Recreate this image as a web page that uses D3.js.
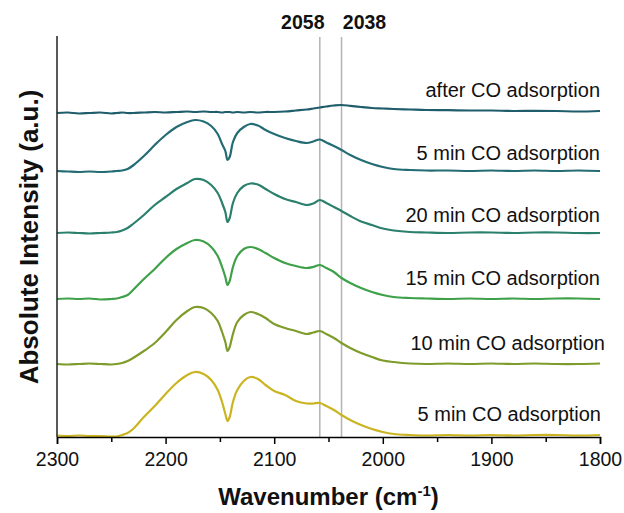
<!DOCTYPE html>
<html>
<head>
<meta charset="utf-8">
<script src="https://cdnjs.cloudflare.com/ajax/libs/d3/7.8.5/d3.min.js"></script>
<style>
  body { margin: 0; background: #fff; }
  svg { font-family: "Liberation Sans", Arial, sans-serif; }
</style>
</head>
<body>
<svg id="chart" width="624" height="513"></svg>
<script>
// wavenumber grid (cm-1)
var wavenumbers = [2300, 2290, 2280, 2270, 2260, 2250, 2245, 2240, 2235, 2230, 2220, 2210, 2200, 2190, 2180, 2173,
    2165, 2158, 2152, 2148, 2145, 2143, 2141, 2138, 2134, 2128, 2122, 2115, 2108, 2100, 2090, 2080, 2070, 2064,
    2058, 2052, 2045, 2038, 2030, 2020, 2010, 2000, 1990, 1975, 1960, 1940, 1920, 1900, 1880, 1860, 1840, 1820, 1800];

var seriesLabels = ['after CO adsorption', '5 min CO adsorption', '20 min CO adsorption',
    '15 min CO adsorption', '10 min CO adsorption', '5 min CO adsorption'];
var seriesColors = ['#1f5d6c', '#236c74', '#2b806d', '#3ea149', '#7e9c2b', '#cbb422'];
// vertical offset of each spectrum (a.u.)
var offsets = [32.4, 26.6, 20.4, 13.8, 7.3, 0.1];

var afterCO = [0, 0.05, -0.05, 0, 0.05, -0.05, 0, 0.05, 0, 0, 0.05, 0.1, 0.05, 0.1, 0.15, 0.1,
    0.15, 0.1, 0.1, 0.05, 0.1, 0.1, 0.1, 0.05, 0.1, 0.05, 0.1, 0.05, 0.1, 0.1, 0.15, 0.25, 0.35, 0.45,
    0.55, 0.65, 0.75, 0.8, 0.72, 0.6, 0.5, 0.45, 0.4, 0.35, 0.3, 0.28, 0.25, 0.25, 0.2, 0.22, 0.2, 0.15, 0.2];
var min5b = [0, -0.05, -0.1, -0.05, -0.1, -0.05, 0, 0.05, 0.2, 0.55, 1.5, 2.6, 3.6, 4.4, 4.9, 5.1,
    4.95, 4.5, 3.7, 2.7, 2.0, 1.1, 1.4, 2.9, 3.8, 4.4, 4.7, 4.55, 4.1, 3.7, 3.3, 3.0, 2.8, 2.95,
    3.15, 2.85, 2.5, 2.1, 1.6, 1.1, 0.7, 0.4, 0.2, 0.1, 0.05, 0.05, 0, 0.05, 0, 0.05, 0, 0.05, 0];
var min20 = [0, 0.05, 0, -0.05, 0, 0.05, 0.1, 0.25, 0.5, 0.9, 1.8, 2.8, 3.6, 4.4, 5.0, 5.4,
    5.3, 4.8, 4.0, 3.0, 2.1, 1.1, 1.5, 3.0, 4.0, 4.7, 4.95, 4.85, 4.4, 3.9, 3.4, 3.1, 2.8, 2.95,
    3.3, 3.0, 2.6, 2.2, 1.7, 1.15, 0.8, 0.45, 0.25, 0.1, 0.05, 0, 0.05, 0.05, 0, 0.05, 0.05, 0, 0];
var min15 = [0, 0.05, 0, 0.05, -0.05, 0, 0.05, 0.2, 0.4, 0.9, 2.0, 3.0, 4.1, 5.0, 5.6, 5.9,
    5.75, 5.2, 4.3, 3.2, 2.2, 1.4, 1.8, 3.2, 4.3, 5.0, 5.2, 5.0, 4.6, 4.1, 3.6, 3.3, 3.1, 3.2,
    3.4, 3.1, 2.7, 2.1, 1.6, 1.1, 0.7, 0.4, 0.2, 0.1, 0.05, 0, 0.05, 0, 0.05, 0, 0.05, 0.05, 0];
var min10 = [0, -0.05, 0, 0.05, 0, -0.05, 0, 0.1, 0.3, 0.6, 1.3, 2.1, 3.2, 4.4, 5.3, 5.7,
    5.6, 5.1, 4.3, 3.2, 2.2, 1.3, 1.7, 3.0, 4.2, 4.9, 5.2, 5.0, 4.6, 4.0, 3.6, 3.3, 3.0, 3.15,
    3.3, 3.0, 2.6, 2.1, 1.6, 1.1, 0.7, 0.35, 0.2, 0.05, 0, 0.05, 0, 0.05, 0, 0.05, 0, 0, 0.05];
var min5a = [0.05, 0, 0.05, 0, 0, -0.05, -0.05, 0.1, 0.3, 0.7, 1.9, 3.0, 4.2, 5.3, 6.1, 6.4,
    6.2, 5.6, 4.6, 3.4, 2.2, 1.5, 1.9, 3.4, 4.6, 5.5, 5.9, 5.7, 5.1, 4.5, 4.1, 3.5, 3.25, 3.25,
    3.3, 3.0, 2.6, 2.1, 1.6, 1.1, 0.7, 0.4, 0.2, 0.1, 0.05, 0.1, 0.05, 0.1, 0.05, 0.1, 0.1, 0.05, 0.1];

var seriesValues = [afterCO, min5b, min20, min15, min10, min5a];

var markers = [2058, 2038];
var majorTicks = [2300, 2200, 2100, 2000, 1900, 1800];
var minorTicks = [2250, 2150, 2050, 1950, 1850];

var margin = {top: 36, left: 57, right: 24, bottom: 76};
var width = 624 - margin.left - margin.right;
var height = 513 - margin.top - margin.bottom;

var x = d3.scaleLinear()
    .domain([2300, 1800])
    .range([0, width]);

var y = d3.scaleLinear()
    .domain([0, 40.1])
    .range([height, 0]);

var svg = d3.select('#chart')
    .append('g')
    .attr('transform', 'translate(' + margin.left + ',' + margin.top + ')');

// marker lines
svg.selectAll('.marker')
    .data(markers)
  .enter().append('line')
    .attr('class', 'marker')
    .attr('x1', function(d) { return x(d); })
    .attr('x2', function(d) { return x(d); })
    .attr('y1', 1)
    .attr('y2', height)
    .attr('stroke', '#b3b3b3')
    .attr('stroke-width', 1.5);

svg.selectAll('.marker-label')
    .data(markers)
  .enter().append('text')
    .attr('class', 'marker-label')
    .attr('x', function(d, i) { return x(d) + (i == 0 ? -17 : 23); })
    .attr('y', -7)
    .attr('text-anchor', 'middle')
    .attr('font-size', '19.5px')
    .attr('font-weight', 'bold')
    .attr('fill', '#111')
    .text(function(d) { return d; });

var line = d3.line()
    .curve(d3.curveCatmullRom.alpha(0.5));

seriesValues.forEach(function(vals, i) {
    var pts = vals.map(function(v, j) { return [x(wavenumbers[j]), y(offsets[i] + v)]; });
    svg.append('path')
        .attr('d', line(pts))
        .attr('fill', 'none')
        .attr('stroke', seriesColors[i])
        .attr('stroke-width', 2.2)
        .attr('stroke-linejoin', 'round');
});

// curve labels
var labelY = [97, 160, 222, 285, 350, 421];
var labelX = [543, 543, 543, 543, 548, 544];
svg.selectAll('.series-label')
    .data(seriesLabels)
  .enter().append('text')
    .attr('class', 'series-label')
    .attr('x', function(d, i) { return labelX[i]; })
    .attr('y', function(d, i) { return labelY[i] - margin.top; })
    .attr('text-anchor', 'end')
    .attr('font-size', '20px')
    .attr('fill', '#111')
    .text(function(d) { return d; });

// axes
var xAxis = svg.append('g')
    .attr('transform', 'translate(0,' + height + ')')
    .call(d3.axisBottom(x).tickValues(majorTicks).tickSize(7).tickPadding(8).tickFormat(d3.format('d')));
xAxis.selectAll('text').attr('font-size', '19.5px').attr('fill', '#111').attr('font-family', null);
xAxis.select('.domain').attr('stroke-width', 1.5);
xAxis.selectAll('.tick line').attr('stroke-width', 1.5);

svg.append('g')
    .attr('transform', 'translate(0,' + height + ')')
    .call(d3.axisBottom(x).tickValues(minorTicks).tickSize(5).tickFormat(''))
    .call(function(g) { g.select('.domain').remove(); })
    .selectAll('.tick line').attr('stroke-width', 1.5);

svg.append('line')
    .attr('x1', 0).attr('x2', 0)
    .attr('y1', 0).attr('y2', height)
    .attr('stroke', '#222')
    .attr('stroke-width', 1.5);

// axis titles
var xt = svg.append('text')
    .attr('x', width / 2)
    .attr('y', height + 68)
    .attr('text-anchor', 'middle')
    .attr('font-size', '24px')
    .attr('font-weight', 'bold')
    .attr('fill', '#111');
xt.append('tspan').text('Wavenumber (cm');
xt.append('tspan').attr('font-size', '15px').attr('dy', -9).text('-1');
xt.append('tspan').attr('dy', 9).text(')');

svg.append('text')
    .attr('transform', 'translate(' + (-19) + ',' + (237 - margin.top) + ') rotate(-90)')
    .attr('text-anchor', 'middle')
    .attr('font-size', '26px')
    .attr('font-weight', 'bold')
    .attr('fill', '#111')
    .text('Absolute Intensity (a.u.)');
</script>
</body>
</html>
